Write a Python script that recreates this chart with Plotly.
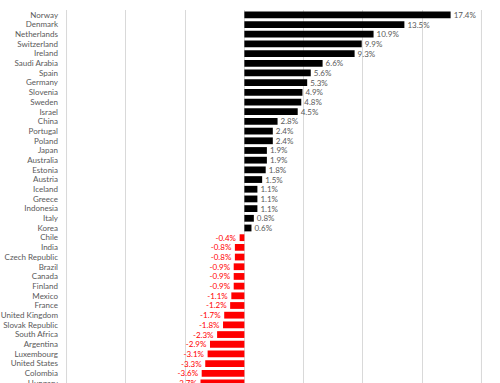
import plotly.graph_objects as go

countries = ["Norway", "Denmark", "Netherlands", "Switzerland", "Ireland", "Saudi Arabia",
             "Spain", "Germany", "Slovenia", "Sweden", "Israel", "China", "Portugal",
             "Poland", "Japan", "Australia", "Estonia", "Austria", "Iceland", "Greece",
             "Indonesia", "Italy", "Korea", "Chile", "India", "Czech Republic", "Brazil",
             "Canada", "Finland", "Mexico", "France", "United Kingdom", "Slovak Republic",
             "South Africa", "Argentina", "Luxembourg", "United States", "Colombia", "Hungary"]
values = [17.4, 13.5, 10.9, 9.9, 9.3, 6.6, 5.6, 5.3, 4.9, 4.8, 4.5, 2.8, 2.4, 2.4, 1.9,
          1.9, 1.8, 1.5, 1.1, 1.1, 1.1, 0.8, 0.6, -0.4, -0.8, -0.8, -0.9, -0.9, -0.9,
          -1.1, -1.2, -1.7, -1.8, -2.3, -2.9, -3.1, -3.3, -3.6, -3.7]
x_ticks = [-15, -10, -5, 0, 5, 10, 15, 20]

bar_colors = ["#000000" if v >= 0 else "#FF0000" for v in values]
text_colors = ["#595959" if v >= 0 else "#FF0000" for v in values]

fig = go.Figure(go.Bar(
    x=values, y=countries, orientation="h",
    marker=dict(color=bar_colors, line=dict(width=0)),
    width=0.7,
    texttemplate="%{x:.1f}%", textposition="outside",
    constraintext="none",
    textfont=dict(color=text_colors, size=8, family="Lato"),
    cliponaxis=False,
))

# make sure the outer grid lines (at the axis ends) are drawn
for xv in (x_ticks[0], x_ticks[-1]):
    fig.add_shape(type="line", xref="x", yref="paper", x0=xv, x1=xv, y0=0, y1=1,
                  line=dict(color="#d9d9d9", width=1), layer="below")

fig.update_layout(
    width=500, height=383,
    margin=dict(l=63, r=14.5, t=10, b=0, autoexpand=False),
    paper_bgcolor="white", plot_bgcolor="white",
    font=dict(family="Lato", size=8, color="#595959"),
    showlegend=False,
)
fig.update_xaxes(range=[x_ticks[0] - 0.3, x_ticks[-1] + 0.3], tickvals=x_ticks, showticklabels=False,
                 showgrid=True, gridcolor="#d9d9d9", gridwidth=1, zeroline=False,
                 showline=False, fixedrange=True, automargin=False)
fig.update_yaxes(type="category", range=[38, -0.5], tickmode="array",
                 tickvals=countries, ticktext=countries,
                 showgrid=False, showline=False, automargin=False,
                 ticks="", ticklabelstandoff=4,
                 tickfont=dict(size=8, color="#595959", family="Lato"),
                 fixedrange=True)

fig.write_html("out.html", config={"displayModeBar": False},
               post_script="document.body.style.margin='0';document.body.style.overflow='hidden';")
